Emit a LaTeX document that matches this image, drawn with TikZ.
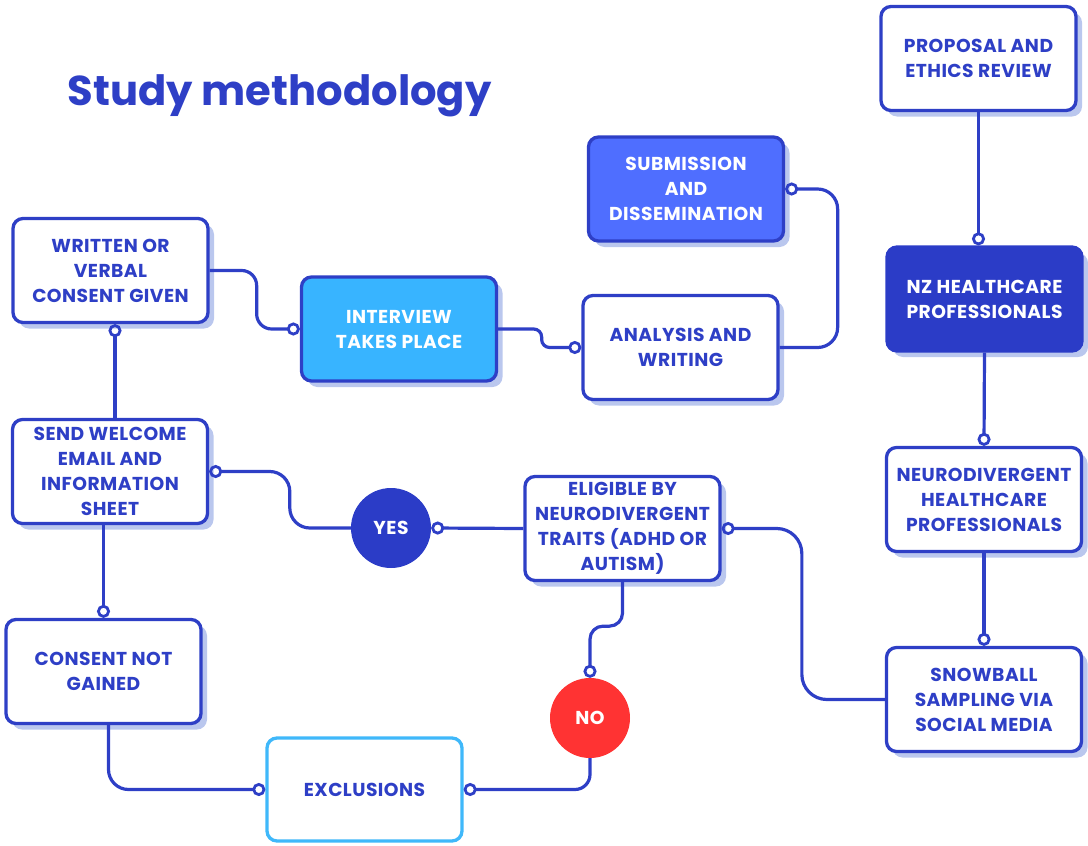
\documentclass[tikz,border=0pt]{standalone}
\usepackage{fontspec}
\setmainfont{Poppins}
\newfontfamily\boxfont[LetterSpace=2.5]{Poppins}
\usetikzlibrary{arrows.meta,shadows,calc}
\definecolor{myblue}{HTML}{2E3FC6}
\definecolor{darkfill}{HTML}{2B3CC7}
\definecolor{skyfill}{HTML}{38B4FF}
\definecolor{midfill}{HTML}{4F6EFF}
\definecolor{exborder}{HTML}{3FB8FA}
\definecolor{shadowc}{HTML}{BAC7EE}
\definecolor{nored}{HTML}{FF3333}
\tikzset{
  boxtext/.style={font=\boxfont\fontsize{18.7}{25}\selectfont\bfseries},
  box/.style={draw=myblue, line width=3.3pt, rounded corners=10pt, fill=white,
    minimum width=195pt, minimum height=104pt, inner sep=0pt, align=center,
    text=myblue, boxtext,
    drop shadow={shadow xshift=6pt, shadow yshift=-6pt, fill=shadowc, opacity=1}},
  plainbox/.style={draw=exborder, line width=3.3pt, rounded corners=10pt, fill=white,
    minimum width=195pt, minimum height=103pt, inner sep=0pt, align=center,
    text=myblue, boxtext},
  decision/.style={circle, minimum size=80pt, inner sep=0pt, text=white, boxtext},
  conn/.style={draw=myblue, line width=3.2pt, -{Circle[open, length=13pt, width=13pt, line width=2.8pt]}},
}
\begin{document}
\begin{tikzpicture}[x=1pt, y=-1pt]
\useasboundingbox (0,0) rectangle (1088,846);
\node[anchor=base west, text=myblue, font=\fontsize{41.7}{48}\selectfont\bfseries] (title) at (64,105) {Study methodology};

\node[box] (wc) at (110.5,270.5) {WRITTEN OR\\VERBAL\\CONSENT GIVEN};
\node[box, fill=skyfill, text=white] (int) at (399,329) {INTERVIEW\\TAKES PLACE};
\node[box, fill=midfill, text=white] (sub) at (686,189) {SUBMISSION\\AND\\DISSEMINATION};
\node[box] (ana) at (680.5,347.5) {ANALYSIS AND\\WRITING};
\node[box] (prop) at (978.5,58.5) {PROPOSAL AND\\ETHICS REVIEW};
\node[box, fill=darkfill, draw=darkfill, text=white] (nz) at (984.5,299) {NZ HEALTHCARE\\PROFESSIONALS};
\node[box] (neuro) at (984,499.5) {NEURODIVERGENT\\HEALTHCARE\\PROFESSIONALS};
\node[box] (snow) at (984,699.5) {SNOWBALL\\SAMPLING VIA\\SOCIAL MEDIA};
\node[box] (eli) at (622.5,528.5) {ELIGIBLE BY\\NEURODIVERGENT\\TRAITS (ADHD OR\\AUTISM)};
\node[box] (sw) at (110,471.5) {SEND WELCOME\\EMAIL AND\\INFORMATION\\SHEET};
\node[box] (cng) at (103.5,671.5) {CONSENT NOT\\GAINED};
\node[plainbox] (exc) at (364.5,789.5) {EXCLUSIONS};
\node[decision, fill=darkfill] (yes) at (391,528) {YES};
\node[decision, fill=nored] (no) at (590,718) {NO};

\draw[conn, rounded corners=15pt] (wc.east) -- ++(47,0) |- (int.west);
\draw[conn, rounded corners=8pt] (int.east) -- ++(43.5,0) |- (ana.west);
\draw[conn, rounded corners=20pt] (ana.east) -- ++(58,0) |- (sub.east);
\draw[conn] (prop.south) -- (prop.south |- nz.north);
\draw[conn] (nz.south) -- (neuro.north);
\draw[conn] (neuro.south) -- (snow.north);
\draw[conn, rounded corners=25pt] (snow.west) -- ++(-83,0) |- (eli.east);
\draw[conn] (eli.west) -- (yes.east);
\draw[conn, rounded corners=20pt] (yes.west) -- ++(-61,0) |- (sw.east);
\draw[conn, rounded corners=13pt] (eli.south) -- ++(0,44) -| (no.north);
\draw[conn, rounded corners=15pt] (no.south) |- (exc.east);
\draw[conn, rounded corners=20pt] ($(cng.south)+(5,0)$) |- (exc.west);
\draw[conn] (cng.north |- sw.south) -- (cng.north);
\draw[conn] ($(sw.north)+(5,0)$) -- ($(sw.north |- wc.south)+(5,0)$);
\end{tikzpicture}
\end{document}
